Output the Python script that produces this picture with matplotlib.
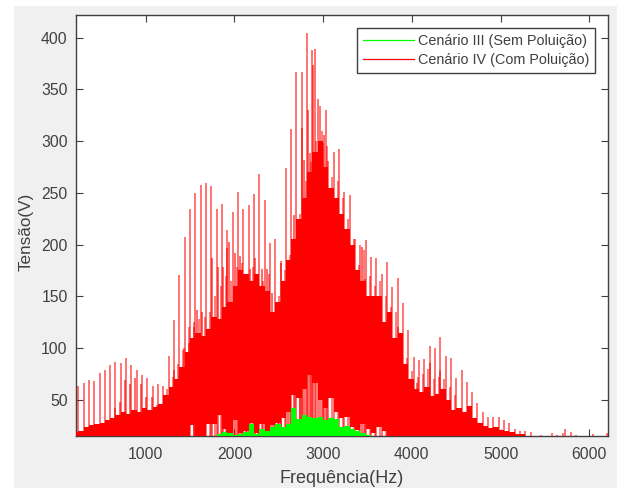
import matplotlib
matplotlib.use("Agg")
import matplotlib.pyplot as plt
from matplotlib.patches import Rectangle
from matplotlib.lines import Line2D

# Main harmonic spikes (Hz, V)
freq_picos = [240,300,360,420,480,540,600,660,720,780,840,900,960,1020,1080,1140,1200,1260,1320,1380,
              1440,1500,1560,1620,1680,1740,1800,1860,1920,1980,2040,2100,2160,2220,2280,2340,2400,2460,2520,2580,
              2640,2700,2760,2820,2880,2910,2940,2970,3030,3060,3120,3180,3240,3300,3360,3420,3480,3540,3600,3660,
              3720,3780,3840,3900,3960,4020,4080,4140,4200,4260,4320,4380,4440,4500,4560,4620,4680,4740,4800,4860,
              4920,4980,5040,5100,5160,5220,5280,5340,5460,5580,5640,5700,5730,5790,5850,6040,6195]
tensao_picos = [63,66,69,68,76,79,84,87,86,90,84,79,74,71,63,65,63,92,127,171,
                207,234,250,258,260,257,234,239,214,232,251,234,238,249,268,243,202,205,184,274,
                312,367,367,405,388,389,341,334,330,281,290,292,251,248,205,200,204,188,187,172,
                183,159,168,144,117,91,88,89,102,100,111,92,90,71,79,67,58,47,38,33,
                33,33,30,28,22,20,20,19,16,18,16,18,22,19,16,17,18]

# Secondary spikes
freq_meio = [655,710,770,820,880,950,1000,1070,1130,1220,1320,1430,1490,1545,1580,1635,1750,1815,1870,1915,
             1940,2005,2060,2130,2175,2230,2310,2365,2425,2490,2525,2600,2670,2740,2760,2830,2885,2790,2850,3000,
             3010,3440,3470,3840,4060,4200,4320]
tensao_meio = [42,48,69,65,71,65,53,53,45,49,79,100,105,120,137,135,187,178,178,197,
               203,192,189,163,176,187,176,176,153,145,182,185,229,207,313,330,374,282,289,298,
               306,198,167,120,66,86,78]

# Dense fringe along the top of the body
freq_franja = [1245,1305,1365,1425,1485,1545,1605,1665,1725,1785,
               1845,1905,1965,2025,2085,2145,2205,2265,2325,2385,
               2445,2505,2565,2625,2685,2745,2805,2865,2925,2985,
               3045,3105,3165,3225,3285,3345,3405,3465,3525,3585,
               3645,3705,3765,3825,3885,3945,4005,4065,4125,4185,
               4245,4305,4365,4425,4485]
tensao_franja = [60,72,85,98,120,125,128,130,135,150,
                 160,170,165,178,182,170,178,172,165,172,
                 135,150,175,190,205,230,262,280,300,310,
                 295,265,262,245,225,205,180,195,170,160,
                 165,150,140,135,110,90,78,72,75,80,
                 70,72,70,62,55]

# Dense body of the red spectrum: upper and lower edges
freq_corpo = [210,270,330,390,450,510,570,630,690,750,
              810,870,930,990,1050,1110,1170,1230,1290,1350,
              1410,1470,1530,1590,1650,1710,1770,1830,1890,1950,
              2010,2070,2130,2190,2250,2310,2370,2430,2490,2550,
              2610,2670,2730,2790,2850,2910,2970,3030,3090,3150,
              3210,3270,3330,3390,3450,3510,3570,3630,3690,3750,
              3810,3870,3930,3990,4050,4110,4170,4230,4290,4350,
              4410,4470,4530,4590,4650,4710,4770,4830,4890,4950,
              5010,5070,5130,5190,5250,5310]
corpo_sup = [19,20,24,26,27,28,30,32,35,38,
             36,40,38,42,40,43,46,55,62,70,
             82,96,110,115,112,118,130,128,140,145,
             160,175,172,165,172,160,155,135,145,165,
             185,205,225,245,270,290,300,275,255,245,
             230,215,200,175,165,150,150,150,125,135,
             110,115,85,70,60,58,62,54,56,60,
             50,40,42,38,44,32,28,25,23,24,
             21,20,19,17,17,15]
corpo_inf = [15,15,15,15,15,15,15,15,15,15,
             15,15,15,15,15,15,15,15,15,15,
             15,15,26,15,15,27,27,35,22,18,
             30,18,20,28,18,27,20,26,28,32,
             38,55,52,60,74,66,50,42,52,38,
             32,33,24,21,27,22,18,24,20,15,
             15,15,15,15,15,15,15,15,15,15,
             15,15,15,15,15,15,15,15,15,15,
             15,15,15,15,15,15]

# Green series
freq_verde = [1770,1830,1890,1950,2010,2070,2130,2190,2250,2310,2370,2430,2490,2550,2610,2670,
              2730,2790,2850,2910,2970,3030,3090,3150,3210,3270,3330,3390,3450,3510,3570]
tensao_verde = [15,17,19,18,16,17,19,27,17,22,20,24,27,24,27,42,
                31,35,33,32,33,30,32,31,24,25,22,20,18,16,15]

rotulos_legenda = ["Cenário III (Sem Poluição)", "Cenário IV (Com Poluição)"]
ticks_x = [1000, 2000, 3000, 4000, 5000, 6000]
ticks_y = [50, 100, 150, 200, 250, 300, 350, 400]

plt.rcParams["font.family"] = ["Liberation Sans", "DejaVu Sans"]
cinza = "#404040"
W, H = 617, 488
fig = plt.figure(figsize=(W / 100, H / 100), dpi=100, facecolor="white")
fig.patches.append(Rectangle((14 / W, 0), 1 - 14 / W, 1 - 6 / H, transform=fig.transFigure,
                             facecolor="#f0f0f0", edgecolor="none", zorder=-10))
ax = fig.add_axes([76 / W, (H - 436) / H, (608 - 76) / W, (436 - 15) / H])
ax.set_facecolor("white")

ax.vlines(freq_franja, 15, tensao_franja, color="#ff0000", lw=1.2, alpha=0.6, zorder=3.0)
ax.vlines(freq_meio, 15, tensao_meio, color="#ff0000", lw=1.1, alpha=0.75, zorder=3.01)
ax.vlines(freq_picos, 15, tensao_picos, color="#ff0000", lw=1.4, alpha=0.55, zorder=3.02)
ax.fill_between(freq_verde, 15, tensao_verde, step="mid", color="#00ff00", lw=0, zorder=3.05)
ax.fill_between(freq_corpo, corpo_inf, corpo_sup, step="mid", color="#ff0000", lw=0, zorder=3.1)

ax.set_xlim(215, 6211)
ax.set_ylim(15, 422)
ax.set_xticks(ticks_x)
ax.set_yticks(ticks_y)
ax.tick_params(direction="in", length=5, width=0.8, color=cinza, labelcolor=cinza,
               labelsize=11.3, top=True, right=True)
ax.tick_params(axis="x", pad=8)
ax.tick_params(axis="y", pad=6)
for s in ax.spines.values():
    s.set_color(cinza)
    s.set_linewidth(1.0)
ax.set_xlabel("Frequência(Hz)", fontsize=13, color=cinza, labelpad=6)
ax.set_ylabel("Tensão(V)", fontsize=12.3, color=cinza, labelpad=5, y=0.484)

alcas = [Line2D([], [], color="#00ff00", lw=0.9), Line2D([], [], color="#ff0000", lw=0.9)]
leg = ax.legend(alcas, rotulos_legenda, loc="upper left",
                bbox_to_anchor=((357 - 76) / (608 - 76), 1 - (28 - 15) / (436 - 15)),
                fontsize=10.4, frameon=True, fancybox=False, framealpha=1, edgecolor=cinza,
                handlelength=3.5, handletextpad=0.3, borderpad=0.42, labelspacing=0.35,
                borderaxespad=0, labelcolor=cinza)
leg.get_frame().set_linewidth(1.0)
leg.set_zorder(5)

fig.savefig("out.png", dpi=100, facecolor=fig.get_facecolor())
